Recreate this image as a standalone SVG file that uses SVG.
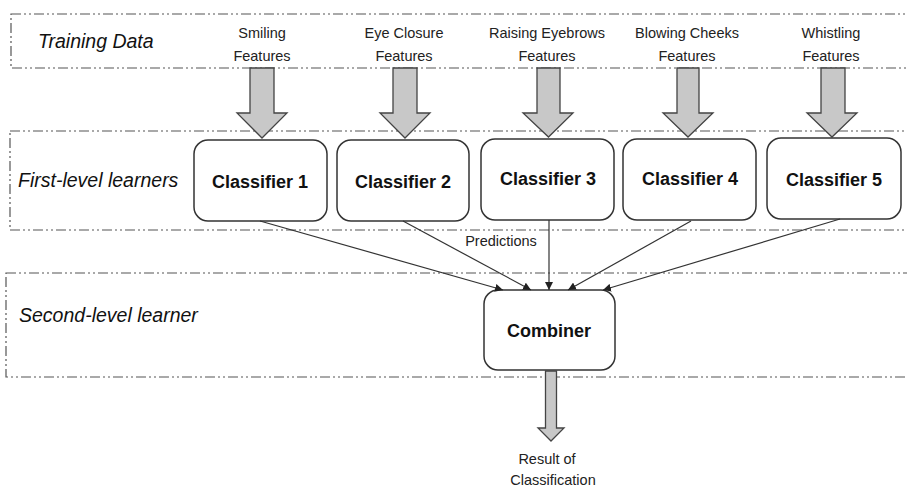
<svg xmlns="http://www.w3.org/2000/svg" width="907" height="487" viewBox="0 0 907 487">
  <style>
    .band { fill: none; stroke: #555; stroke-width: 1.2; stroke-dasharray: 10 3 2 3 2 3; }
    .lane { font-family: "Liberation Sans", Arial, sans-serif; font-style: italic; font-size: 19.5px; fill: #111; }
    .feat { font-family: "Liberation Sans", Arial, sans-serif; font-size: 14.5px; fill: #222; text-anchor: middle; }
    .node rect { fill: #fff; stroke: #333; stroke-width: 1.5; }
    .node text { font-family: "Liberation Sans", Arial, sans-serif; font-weight: bold; font-size: 18px; fill: #111; text-anchor: middle; }
    .block { fill: #c8c8c8; stroke: #444; stroke-width: 1.3; stroke-linejoin: miter; }
    .conn { stroke: #333; stroke-width: 1.2; fill: none; marker-end: url(#tip); }
  </style>
  <defs>
    <marker id="tip" viewBox="0 0 10 10" refX="10" refY="5" markerWidth="8" markerHeight="8" markerUnits="userSpaceOnUse" orient="auto">
      <path d="M0,0 L10,5 L0,10 z" fill="#222"/>
    </marker>
  </defs>

  <rect width="907" height="487" fill="#fff"/>

  <!-- lanes -->
  <g id="lanes">
    <rect class="band" x="11" y="14" width="910" height="54"/>
    <rect class="band" x="10" y="131" width="910" height="99"/>
    <rect class="band" x="6" y="273" width="915" height="104"/>
    <text class="lane" x="38" y="48">Training Data</text>
    <text class="lane" x="18" y="187">First-level learners</text>
    <text class="lane" x="19" y="322">Second-level learner</text>
  </g>

  <!-- training data labels -->
  <g id="features">
    <text class="feat" x="262" y="38">Smiling</text>
    <text class="feat" x="262" y="61">Features</text>
    <text class="feat" x="404" y="38">Eye Closure</text>
    <text class="feat" x="404" y="61">Features</text>
    <text class="feat" x="547" y="38">Raising Eyebrows</text>
    <text class="feat" x="547" y="61">Features</text>
    <text class="feat" x="687" y="38">Blowing Cheeks</text>
    <text class="feat" x="687" y="61">Features</text>
    <text class="feat" x="831" y="38">Whistling</text>
    <text class="feat" x="831" y="61">Features</text>
  </g>

  <!-- block arrows feeding the classifiers -->
  <g id="feeds">
    <polygon class="block" points="250,68 274,68 274,113 287,113 262,138 237,113 250,113"/>
    <polygon class="block" points="393,68 417,68 417,113 430,113 405,138 380,113 393,113"/>
    <polygon class="block" points="537,68 560,68 560,113 573,113 548.5,137 523,113 537,113"/>
    <polygon class="block" points="677,68 699,68 699,113 713,113 688,137 663,113 677,113"/>
    <polygon class="block" points="821,68 845,68 845,113 857,113 832,137 807,113 821,113"/>
  </g>

  <!-- classifiers -->
  <g id="classifier1" class="node">
    <rect x="194" y="140" width="133" height="81" rx="14"/>
    <text x="260" y="188">Classifier 1</text>
  </g>
  <g id="classifier2" class="node">
    <rect x="337" y="140" width="132" height="81" rx="14"/>
    <text x="403" y="188">Classifier 2</text>
  </g>
  <g id="classifier3" class="node">
    <rect x="481" y="139" width="133" height="81" rx="14"/>
    <text x="548" y="185">Classifier 3</text>
  </g>
  <g id="classifier4" class="node">
    <rect x="623" y="139" width="133" height="81" rx="14"/>
    <text x="690" y="185">Classifier 4</text>
  </g>
  <g id="classifier5" class="node">
    <rect x="767" y="138" width="134" height="81" rx="14"/>
    <text x="834" y="186">Classifier 5</text>
  </g>

  <!-- combiner -->
  <g id="combiner" class="node">
    <rect x="484" y="290" width="131" height="80" rx="14"/>
    <text x="549" y="337">Combiner</text>
  </g>

  <!-- predictions flowing to the combiner -->
  <g id="connectors">
    <line class="conn" x1="260" y1="221" x2="503" y2="290"/>
    <line class="conn" x1="403" y1="221" x2="531" y2="290"/>
    <line class="conn" x1="549" y1="220" x2="549" y2="290"/>
    <line class="conn" x1="691" y1="221" x2="568" y2="290"/>
    <line class="conn" x1="840" y1="219" x2="603" y2="290"/>
    <text class="feat" x="501" y="246">Predictions</text>
  </g>

  <!-- output -->
  <g id="result">
    <polygon class="block" points="545.5,371 556.5,371 556.5,428 564,428 551,441 538,428 545.5,428"/>
    <text class="feat" x="547" y="464">Result of</text>
    <text class="feat" x="553" y="485">Classification</text>
  </g>
</svg>
